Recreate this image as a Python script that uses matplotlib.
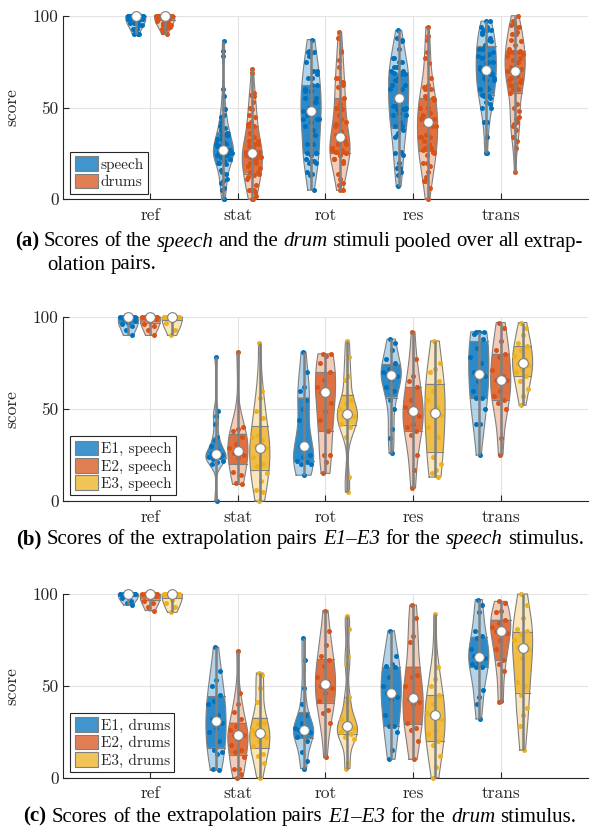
import numpy as np
import matplotlib
matplotlib.use("Agg")
import matplotlib.pyplot as plt
from matplotlib.patches import Patch
from matplotlib.font_manager import FontProperties

plt.rcParams['font.family'] = 'cmr10'
plt.rcParams['axes.formatter.use_mathtext'] = True

# categories on the x axis
categories = ['ref', 'stat', 'rot', 'res', 'trans']

# scores per category (ref, stat, rot, res, trans)
speech_e1 = [
    [100, 100, 100, 100, 100, 100, 100, 100, 99, 98, 97, 96, 95, 93, 90],
    [78, 49, 46, 42, 35, 33, 30, 27, 26, 25, 25, 24, 24, 23, 22, 21, 20, 0],
    [81, 70, 62, 60, 55, 50, 44, 30, 30, 25, 24, 22, 21, 20, 20, 14],
    [88, 86, 82, 77, 75, 72, 70, 69, 69, 68, 66, 62, 60, 55, 50, 39, 34, 26],
    [92, 92, 92, 91, 88, 83, 78, 75, 70, 68, 65, 60, 56, 56, 50, 42, 42, 25],
]
speech_e2 = [
    [100, 100, 100, 100, 100, 100, 100, 100, 100, 99, 98, 96, 95, 93, 90],
    [81, 40, 39, 38, 35, 31, 29, 27, 26, 25, 24, 16, 14, 10, 9],
    [80, 80, 79, 75, 70, 66, 62, 59, 59, 53, 49, 44, 38, 25, 25, 21, 15],
    [92, 77, 68, 65, 62, 55, 51, 49, 49, 46, 42, 40, 38, 36, 25, 17, 7],
    [97, 94, 87, 82, 80, 78, 71, 68, 66, 66, 60, 57, 55, 53, 50, 34, 25],
]
speech_e3 = [
    [100, 100, 100, 100, 100, 100, 100, 100, 100, 100, 98, 97, 93, 90],
    [86, 60, 56, 49, 45, 36, 35, 33, 30, 29, 27, 24, 20, 19, 15, 11, 6, 5, 0],
    [87, 78, 68, 66, 55, 53, 50, 48, 47, 46, 44, 42, 40, 35, 13, 5],
    [87, 75, 72, 70, 65, 60, 55, 51, 49, 47, 46, 40, 35, 24, 20, 17, 15, 13],
    [97, 94, 90, 86, 84, 82, 79, 77, 75, 74, 72, 70, 68, 65, 61, 57, 52],
]
drums_e1 = [
    [100, 100, 100, 100, 100, 100, 100, 100, 100, 100, 100, 98, 96, 95, 94],
    [71, 58, 53, 50, 45, 42, 40, 34, 32, 30, 27, 25, 20, 15, 14, 13, 5, 4],
    [76, 64, 49, 40, 34, 30, 27, 26, 26, 25, 24, 22, 20, 14, 9, 5],
    [80, 66, 62, 61, 60, 55, 50, 47, 46, 44, 43, 34, 28, 28, 25, 15, 10],
    [97, 94, 90, 80, 77, 76, 70, 67, 66, 65, 63, 62, 60, 60, 48, 44, 40, 32],
]
drums_e2 = [
    [100, 100, 100, 100, 100, 100, 100, 100, 100, 99, 98, 96, 95, 93, 91],
    [69, 46, 40, 36, 32, 28, 26, 24, 23, 23, 21, 18, 15, 14, 11, 5, 5, 2, 0],
    [91, 80, 72, 66, 64, 61, 55, 52, 50, 49, 46, 42, 37, 35, 30, 11],
    [94, 87, 77, 74, 56, 55, 50, 44, 43, 41, 40, 30, 27, 26, 20, 10],
    [96, 95, 91, 90, 86, 84, 82, 80, 80, 79, 75, 70, 64, 62, 58, 42, 41],
]
drums_e3 = [
    [100, 100, 100, 100, 100, 100, 100, 100, 100, 100, 97, 95, 93, 90],
    [57, 56, 49, 41, 30, 29, 26, 25, 24, 22, 20, 17, 13, 12, 8, 0],
    [88, 81, 66, 62, 44, 41, 32, 30, 28, 27, 26, 25, 24, 22, 21, 8, 5],
    [89, 60, 54, 50, 45, 40, 35, 34, 34, 32, 26, 24, 20, 18, 12, 6, 0],
    [100, 94, 87, 81, 80, 78, 75, 72, 71, 70, 65, 52, 50, 45, 38, 34, 28, 15],
]

# pooled over E1-E3 for panel (a)
speech_all = [speech_e1[k] + speech_e2[k] + speech_e3[k] for k in range(5)]
drums_all = [drums_e1[k] + drums_e2[k] + drums_e3[k] for k in range(5)]

BLUE = '#0072BD'
ORANGE = '#D95319'
YELLOW = '#EDB120'
GRAY = '#808080'
DARK = '#262626'
W, H = 598, 832


def kde_outline(data, npts=120):
    data = np.asarray(data, float)
    n = len(data)
    sig = np.median(np.abs(data - np.median(data))) / 0.6745
    if sig <= 0:
        sig = data.max() - data.min()
    bw = sig * (4.0 / (3.0 * n)) ** 0.2
    y = np.linspace(data.min(), data.max(), npts)
    d = np.exp(-0.5 * ((y[:, None] - data[None, :]) / bw) ** 2).sum(axis=1)
    return y, d / d.max()


def draw_violin(ax, pos, data, color, hw=0.115):
    data = np.asarray(data, float)
    y, d = kde_outline(data)
    w = d * hw
    ax.fill_betweenx(y, pos - w, pos + w, facecolor=color, alpha=0.3,
                     edgecolor='none', zorder=2, clip_on=False)
    q1, med, q3 = np.percentile(data, [25, 50, 75])
    ys = np.r_[q1, y[(y > q1) & (y < q3)], q3]
    ws = np.interp(ys, y, w)
    ax.fill_betweenx(ys, pos - ws, pos + ws, facecolor=color, alpha=0.75,
                     edgecolor='none', zorder=3, clip_on=False)
    # outline
    ax.plot(np.r_[pos - w, (pos + w)[::-1], pos - w[0]],
            np.r_[y, y[::-1], y[0]], color=GRAY, lw=0.8, zorder=4, clip_on=False)
    for q, wq in [(q1, ws[0]), (q3, ws[-1])]:
        ax.plot([pos - wq, pos + wq], [q, q], color=GRAY, lw=0.8, zorder=4, clip_on=False)
    # jittered points inside the violin
    n = len(data)
    jit = ((np.arange(n) * 0.618034 + 0.3) % 1.0) * 2 - 1
    xs = pos + jit * np.interp(data, y, w) * 0.85
    ax.scatter(xs, data, s=13, color=color, linewidths=0, zorder=5, clip_on=False)
    ax.plot([pos, pos], [data.min(), data.max()], color=GRAY, lw=1.8,
            zorder=6, solid_capstyle='butt', clip_on=False)
    ax.plot([pos], [med], 'o', mfc='white', mec=GRAY, mew=0.8, ms=7,
            zorder=7, clip_on=False)


def style_axes(ax):
    ax.set_xlim(0, 6)
    ax.set_ylim(0, 100)
    ax.set_xticks(range(1, 6))
    ax.set_xticklabels(categories)
    ax.set_yticks([0, 50, 100])
    ax.set_yticklabels(['0', '50', '100'])
    ax.spines[['top', 'right']].set_visible(False)
    for s in ['left', 'bottom']:
        ax.spines[s].set_color(DARK)
        ax.spines[s].set_linewidth(0.8)
    ax.grid(True, color='#e3e3e3', lw=0.8)
    ax.set_axisbelow(True)
    ax.tick_params(axis='both', direction='in', length=4, width=0.8,
                   color=DARK, labelcolor=DARK, labelsize=12.5)
    ax.tick_params(axis='x', pad=6)
    ax.tick_params(axis='y', pad=3)
    ax.set_ylabel('score', fontsize=12.5, color=DARK)
    ax.yaxis.set_label_coords(-0.083, 0.5)


def add_legend(ax, colors, labels):
    handles = [Patch(facecolor=(*matplotlib.colors.to_rgb(c), 0.75),
                     edgecolor=GRAY, lw=0.8) for c in colors]
    leg = ax.legend(handles, labels, loc='lower left', bbox_to_anchor=(0.014, 0.03),
                    borderaxespad=0, fontsize=11, handlelength=1.55,
                    handleheight=1.1, handletextpad=0.15, labelspacing=0.12,
                    borderpad=0.3, frameon=True, fancybox=False,
                    edgecolor=DARK, framealpha=1)
    leg.get_frame().set_linewidth(0.8)
    for t in leg.get_texts():
        t.set_color(DARK)


fig = plt.figure(figsize=(W / 100, H / 100), dpi=100)
ax_a = fig.add_axes([62.7 / W, 1 - 199.3 / H, 525.6 / W, 183.6 / H])
ax_b = fig.add_axes([62.7 / W, 1 - 501.0 / H, 525.6 / W, 184.0 / H])
ax_c = fig.add_axes([62.7 / W, 1 - 777.7 / H, 525.6 / W, 183.7 / H])

for ax in [ax_a, ax_b, ax_c]:
    style_axes(ax)

for k in range(5):
    draw_violin(ax_a, k + 1 - 0.165, speech_all[k], BLUE)
    draw_violin(ax_a, k + 1 + 0.165, drums_all[k], ORANGE)
    for off, series, col in [(-0.25, speech_e1, BLUE), (0, speech_e2, ORANGE), (0.25, speech_e3, YELLOW)]:
        draw_violin(ax_b, k + 1 + off, series[k], col)
    for off, series, col in [(-0.25, drums_e1, BLUE), (0, drums_e2, ORANGE), (0.25, drums_e3, YELLOW)]:
        draw_violin(ax_c, k + 1 + off, series[k], col)

add_legend(ax_a, [BLUE, ORANGE], ['speech', 'drums'])
add_legend(ax_b, [BLUE, ORANGE, YELLOW], ['E1, speech', 'E2, speech', 'E3, speech'])
add_legend(ax_c, [BLUE, ORANGE, YELLOW], ['E1, drums', 'E2, drums', 'E3, drums'])

# captions with mixed bold / italic runs
CAP_SIZE = 15
props = {
    'n': FontProperties(family='Liberation Serif', size=CAP_SIZE),
    'b': FontProperties(family='Liberation Serif', size=CAP_SIZE, weight='bold'),
    'i': FontProperties(family='Liberation Serif', size=CAP_SIZE, style='italic'),
}
renderer = fig.canvas.get_renderer()


def run_width(text, prop):
    w1, _, _ = renderer.get_text_width_height_descent('|' + text + '|', prop, ismath=False)
    w2, _, _ = renderer.get_text_width_height_descent('||', prop, ismath=False)
    return w1 - w2


def caption(runs, y_px, x0=None, xc=None, x1=None):
    widths = [run_width(t, props[s]) for t, s in runs]
    total = sum(widths)
    x = x0 if x0 is not None else xc - total / 2
    # justify: spread leftover space over the word gaps
    extra = 0.0
    if x0 is not None and x1 is not None:
        gaps = sum(t.count(' ') for t, s in runs if t.strip()) - (1 if runs[-1][0].endswith(' ') else 0)
        gaps = max(gaps, 1)
        extra = (x1 - x0 - total) / gaps
    for (t, s), w in zip(runs, widths):
        words = t.split(' ')
        for j, word in enumerate(words):
            if word:
                fig.text(x / W, 1 - y_px / H, word, fontproperties=props[s],
                         ha='left', va='baseline', color='black')
                x += run_width(word, props[s])
            if j < len(words) - 1:
                x += run_width(' ', props[s]) + extra


caption([('(a) ', 'b'), ('Scores of the ', 'n'), ('speech ', 'i'), ('and the ', 'n'),
         ('drum ', 'i'), ('stimuli pooled over all extrap-', 'n')], 246.5, x0=15, x1=583)
caption([('olation pairs.', 'n')], 269.5, x0=47)
caption([('(b) ', 'b'), ('Scores of the extrapolation pairs ', 'n'), ('E1–E3 ', 'i'),
         ('for the ', 'n'), ('speech ', 'i'), ('stimulus.', 'n')], 544, xc=300)
caption([('(c) ', 'b'), ('Scores of the extrapolation pairs ', 'n'), ('E1–E3 ', 'i'),
         ('for the ', 'n'), ('drum ', 'i'), ('stimulus.', 'n')], 821.5, xc=300)

fig.savefig('out.png', dpi=100)
